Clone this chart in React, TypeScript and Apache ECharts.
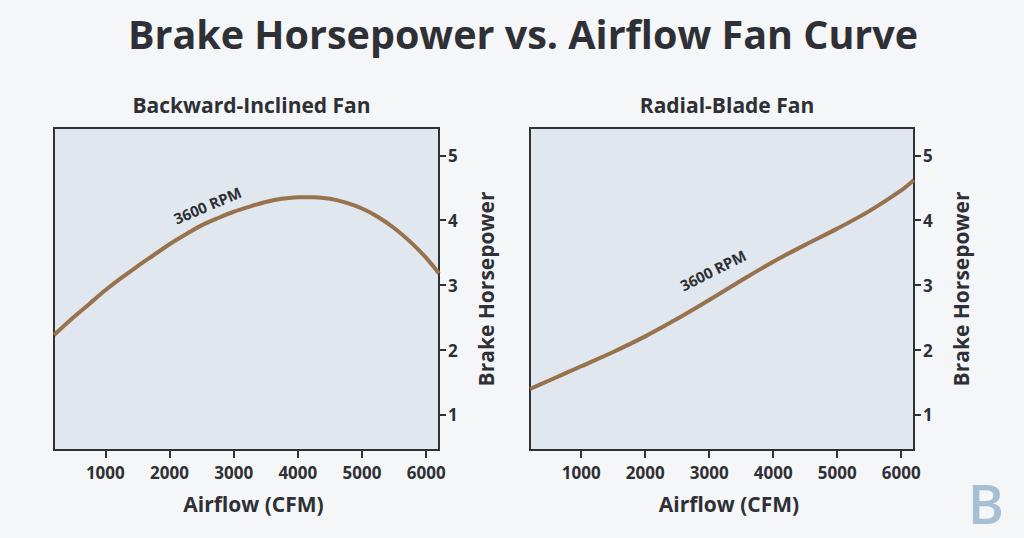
import React, { useEffect, useRef } from "react";
import * as echarts from "echarts";

const airflowBackward = [200, 500, 750, 1000, 1250, 1500, 1750, 2000, 2250, 2500, 2750, 3000, 3250, 3500, 3750, 4000, 4250, 4500, 4750, 5000, 5250, 5500, 5750, 6000, 6200];
const bhpBackward = [2.23, 2.5, 2.71, 2.92, 3.11, 3.29, 3.46, 3.63, 3.78, 3.92, 4.03, 4.13, 4.21, 4.28, 4.33, 4.355, 4.355, 4.33, 4.27, 4.18, 4.05, 3.88, 3.67, 3.42, 3.18];
const airflowRadial = [200, 500, 1000, 1500, 2000, 2500, 3000, 3500, 4000, 4500, 5000, 5500, 6000, 6200];
const bhpRadial = [1.4, 1.53, 1.75, 1.97, 2.21, 2.48, 2.77, 3.07, 3.36, 3.62, 3.87, 4.14, 4.46, 4.62];
const xTicks = [1000, 2000, 3000, 4000, 5000, 6000];
const yTicks = [1, 2, 3, 4, 5];
const panelTitles = ["Backward-Inclined Fan", "Radial-Blade Fan"];
const mainTitle = "Brake Horsepower vs. Airflow Fan Curve";
const curveLabel = "3600 RPM";
const curveLabelAt = [
  [2592, 4.23],
  [3059, 3.23],
];
const curveLabelRotate = [23, 27];
const xName = "Airflow (CFM)";
const yName = "Brake Horsepower";

const X_MIN = 200;
const X_MAX = 6200;
const Y_MIN = 0.46;
const Y_MAX = 5.42;

const FONT = "'Open Sans', 'Noto Sans', sans-serif";
const INK = "#2e3035";
const AXIS = "#2f3134";
const LINE = "#98714d";

export default function App() {
  const ref = useRef<HTMLDivElement>(null);
  useEffect(() => {
    if (!ref.current) return;
    document.body.style.margin = "0";
    const chart = echarts.init(ref.current, undefined, { renderer: "svg" });
    const grids = [
      { left: 54, top: 128, width: 385, height: 322 },
      { left: 530, top: 128, width: 384, height: 322 },
    ];
    const xs = [airflowBackward, airflowRadial];
    const series = [bhpBackward, bhpRadial];

    // Tick-only grids spanning exactly the first..last tick value of each axis
    const xT0 = xTicks[0];
    const xT1 = xTicks[xTicks.length - 1];
    const yT0 = yTicks[0];
    const yT1 = yTicks[yTicks.length - 1];
    const xTickGrids = grids.map((g) => ({
      left: g.left + ((xT0 - X_MIN) / (X_MAX - X_MIN)) * g.width,
      width: ((xT1 - xT0) / (X_MAX - X_MIN)) * g.width,
      top: g.top,
      height: g.height,
    }));
    const yTickGrids = grids.map((g) => ({
      left: g.left,
      width: g.width,
      top: g.top + ((Y_MAX - yT1) / (Y_MAX - Y_MIN)) * g.height,
      height: ((yT1 - yT0) / (Y_MAX - Y_MIN)) * g.height,
    }));

    const hiddenValueAxis = (gridIndex: number) => ({
      type: "value",
      gridIndex,
      show: false,
    });

    chart.setOption({
      animation: false,
      backgroundColor: "#f4f6f8",
      textStyle: { fontFamily: FONT },
      title: [
        {
          text: mainTitle,
          left: 518,
          textAlign: "center",
          top: 9,
          textStyle: { fontFamily: FONT, fontSize: 39.5, fontWeight: 700, color: INK },
        },
        ...panelTitles.map((t, i) => ({
          text: t,
          left: grids[i].left + grids[i].width / 2,
          textAlign: "center",
          top: 89,
          textStyle: { fontFamily: FONT, fontSize: 21, fontWeight: 700, color: INK },
        })),
      ],
      grid: [
        ...grids.map((g) => ({
          ...g,
          show: true,
          backgroundColor: "#e1e7ef",
          borderColor: AXIS,
          borderWidth: 2,
          containLabel: false,
        })),
        ...xTickGrids.map((g) => ({ ...g, show: false, containLabel: false })),
        ...yTickGrids.map((g) => ({ ...g, show: false, containLabel: false })),
      ],
      xAxis: [
        ...grids.map((_, i) => ({
          type: "value",
          gridIndex: i,
          min: X_MIN,
          max: X_MAX,
          name: xName,
          nameLocation: "middle",
          nameGap: 43,
          nameTextStyle: {
            fontFamily: FONT,
            fontSize: 21,
            fontWeight: 700,
            color: INK,
            padding: [0, 0, 0, 14],
          },
          axisLine: { show: true, onZero: false, lineStyle: { color: AXIS, width: 2 } },
          axisTick: { show: false },
          axisLabel: {
            margin: 14,
            fontFamily: FONT,
            fontSize: 17,
            fontWeight: 700,
            color: INK,
            customValues: xTicks,
            formatter: (v: number) => String(v),
          },
          splitLine: { show: false },
        })),
        ...grids.map((_, i) => ({
          type: "category",
          gridIndex: 2 + i,
          data: xTicks.map(String),
          boundaryGap: false,
          position: "bottom",
          axisLine: { show: false, onZero: false },
          axisTick: { show: true, interval: 0, inside: false, length: 8, lineStyle: { color: AXIS, width: 2 } },
          axisLabel: { show: false },
          splitLine: { show: false },
        })),
        ...grids.map((_, i) => hiddenValueAxis(4 + i)),
      ],
      yAxis: [
        ...grids.map((_, i) => ({
          type: "value",
          gridIndex: i,
          position: "right",
          min: Y_MIN,
          max: Y_MAX,
          name: yName,
          nameLocation: "middle",
          nameRotate: 90,
          nameGap: 36,
          nameTextStyle: { fontFamily: FONT, fontSize: 21, fontWeight: 700, color: INK },
          axisLine: { show: true, onZero: false, lineStyle: { color: AXIS, width: 2 } },
          axisTick: { show: false },
          axisLabel: {
            margin: 9,
            fontFamily: FONT,
            fontSize: 17,
            fontWeight: 700,
            color: INK,
            customValues: yTicks,
            formatter: (v: number) => String(v),
          },
          splitLine: { show: false },
        })),
        ...grids.map((_, i) => hiddenValueAxis(2 + i)),
        ...grids.map((_, i) => ({
          type: "category",
          gridIndex: 4 + i,
          data: yTicks.map(String),
          boundaryGap: false,
          position: "right",
          axisLine: { show: false, onZero: false },
          axisTick: { show: true, interval: 0, inside: false, length: 7, lineStyle: { color: AXIS, width: 2 } },
          axisLabel: { show: false },
          splitLine: { show: false },
        })),
      ],
      series: series.map((vals, i) => ({
        type: "line",
        xAxisIndex: i,
        yAxisIndex: i,
        data: xs[i].map((x, k) => [x, vals[k]]),
        smooth: 0.3,
        showSymbol: false,
        lineStyle: { color: LINE, width: 4 },
        clip: true,
        markPoint: {
          symbol: "circle",
          symbolSize: 0,
          silent: true,
          data: [{ coord: curveLabelAt[i] }],
          label: {
            show: true,
            position: "inside",
            formatter: curveLabel,
            rotate: curveLabelRotate[i],
            fontFamily: FONT,
            fontSize: 15,
            fontWeight: 700,
            color: INK,
          },
        },
      })),
      graphic: [
        {
          type: "text",
          x: 1004,
          y: 502,
          silent: true,
          style: {
            text: "B",
            fontFamily: FONT,
            fontSize: 55,
            fontWeight: 600,
            fill: "#a7bfd5",
            align: "right",
            verticalAlign: "middle",
          },
        },
      ],
    });
    return () => chart.dispose();
  }, []);
  return <div ref={ref} style={{ width: 1024, height: 538 }} />;
}
